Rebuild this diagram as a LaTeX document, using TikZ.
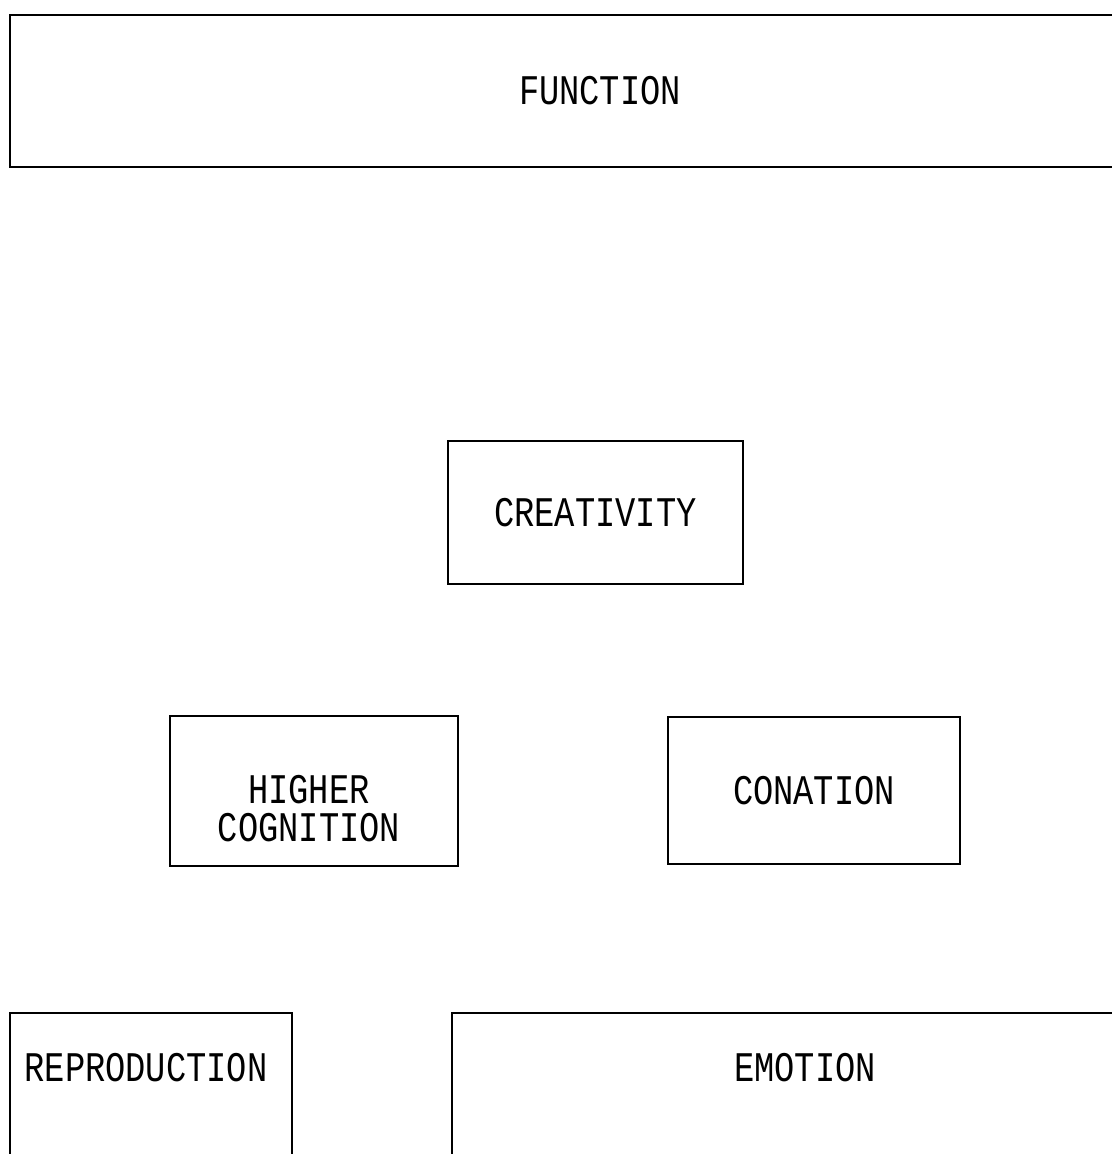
\documentclass[tikz,border=0pt]{standalone}
\usepackage{fontspec}
\newfontfamily\tw[FakeStretch=0.8]{Liberation Mono}
\usetikzlibrary{positioning}
\tikzset{
  box/.style={draw, line width=0.8pt, inner sep=0pt, font=\fontsize{12}{11}\tw, align=center},
  lab/.style={font=\fontsize{12}{10.8}\tw, inner sep=0pt, align=center}
}

\begin{document}
\begin{tikzpicture}
		\useasboundingbox (0,0) rectangle (11.12,-11.54);
		\clip (0,0) rectangle (11.12,-11.54);
		% top
		\node[box, minimum width=11.8cm, minimum height=1.52cm] (fun) at (6.00,-0.91) {FUNCTION};
		% middle
		\node[box, minimum width=2.95cm, minimum height=1.43cm] (cre) at (5.955,-5.125) {CREATIVITY};
		\node[box, minimum width=2.88cm, minimum height=1.50cm] (hig) at (3.14,-7.91) {};
		\node[lab, below=0.6 of hig.north, xshift=-0.05cm] (higlab) {HIGHER\\COGNITION};
		\node[box, minimum width=2.92cm, minimum height=1.47cm] (con) at (8.14,-7.905) {CONATION};
		% bottom row, cut off by the page
		\node[box, minimum width=2.82cm, minimum height=1.77cm] (rep) at (1.51,-11.015) {};
		\node[box, minimum width=7.06cm, minimum height=1.77cm] (emo) at (8.05,-11.015) {};
		\node[lab, below=0.41 of rep.north, xshift=-0.05cm] (replab) {REPRODUCTION};
		\node[lab, below=0.41 of emo.north] (emolab) {EMOTION};
	\end{tikzpicture}
\end{document}
